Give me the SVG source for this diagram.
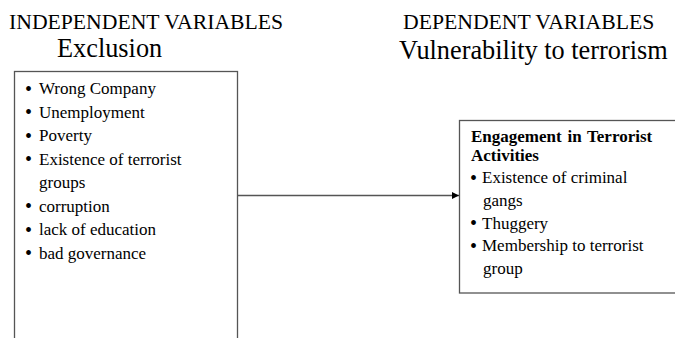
<svg xmlns="http://www.w3.org/2000/svg" width="675" height="338" viewBox="0 0 675 338" font-family="'Liberation Serif', 'Times New Roman', serif">
<defs>
<style>
text{font-family:'Liberation Serif','Times New Roman',serif;fill:#000}
.h{font-size:21.7px}
.t{font-size:26.3px}
.i{font-size:17px}
.b{font-size:17px;font-weight:bold}
.d{font-size:20px}
.box{fill:#fff;stroke:#555;stroke-width:1.3}
.edge{stroke:#555;stroke-width:1.3;fill:none}
</style>
<marker id="ah" viewBox="0 0 10 10" refX="10" refY="5" markerWidth="7" markerHeight="7" markerUnits="userSpaceOnUse" orient="auto">
<path d="M0,0 L10,5 L0,10 z" fill="#000"/>
</marker>
</defs>
<rect width="675" height="338" fill="#fff"/>
<g id="headings">
<text class="h" x="9" y="29">INDEPENDENT VARIABLES</text>
<text class="t" x="57" y="57">Exclusion</text>
<text class="h" x="403" y="29">DEPENDENT VARIABLES</text>
<text class="t" x="399" y="59">Vulnerability to terrorism</text>
</g>
<g id="independent">
<rect class="box" x="14.5" y="71.5" width="223" height="280"/>
<text class="i"><tspan class="d" x="25" y="95.5">•</tspan><tspan x="39" y="94">Wrong Company</tspan></text>
<text class="i"><tspan class="d" x="25" y="119">•</tspan><tspan x="39" y="117.5">Unemployment</tspan></text>
<text class="i"><tspan class="d" x="25" y="142.5">•</tspan><tspan x="39" y="141">Poverty</tspan></text>
<text class="i"><tspan class="d" x="25" y="166">•</tspan><tspan x="39" y="164.5">Existence of terrorist</tspan></text>
<text class="i" x="39" y="188">groups</text>
<text class="i"><tspan class="d" x="25" y="213">•</tspan><tspan x="39" y="211.5">corruption</tspan></text>
<text class="i"><tspan class="d" x="25" y="236.5">•</tspan><tspan x="39" y="235">lack of education</tspan></text>
<text class="i"><tspan class="d" x="25" y="260">•</tspan><tspan x="39" y="258.5">bad governance</tspan></text>
</g>
<g id="dependent">
<rect class="box" x="459.5" y="120.5" width="230" height="172.5"/>
<text class="b" x="471" y="141.5" word-spacing="1.5">Engagement in Terrorist</text>
<text class="b" x="471" y="161">Activities</text>
<text class="i"><tspan class="d" x="470" y="184.5">•</tspan><tspan x="482" y="183">Existence of criminal</tspan></text>
<text class="i" x="483" y="206">gangs</text>
<text class="i"><tspan class="d" x="470" y="230">•</tspan><tspan x="482" y="228.5">Thuggery</tspan></text>
<text class="i"><tspan class="d" x="470" y="252.5">•</tspan><tspan x="482" y="251">Membership to terrorist</tspan></text>
<text class="i" x="483" y="273.5">group</text>
</g>
<g id="connectors">
<line class="edge" x1="237.5" y1="195.5" x2="459" y2="195.5" marker-end="url(#ah)"/>
</g>
</svg>
